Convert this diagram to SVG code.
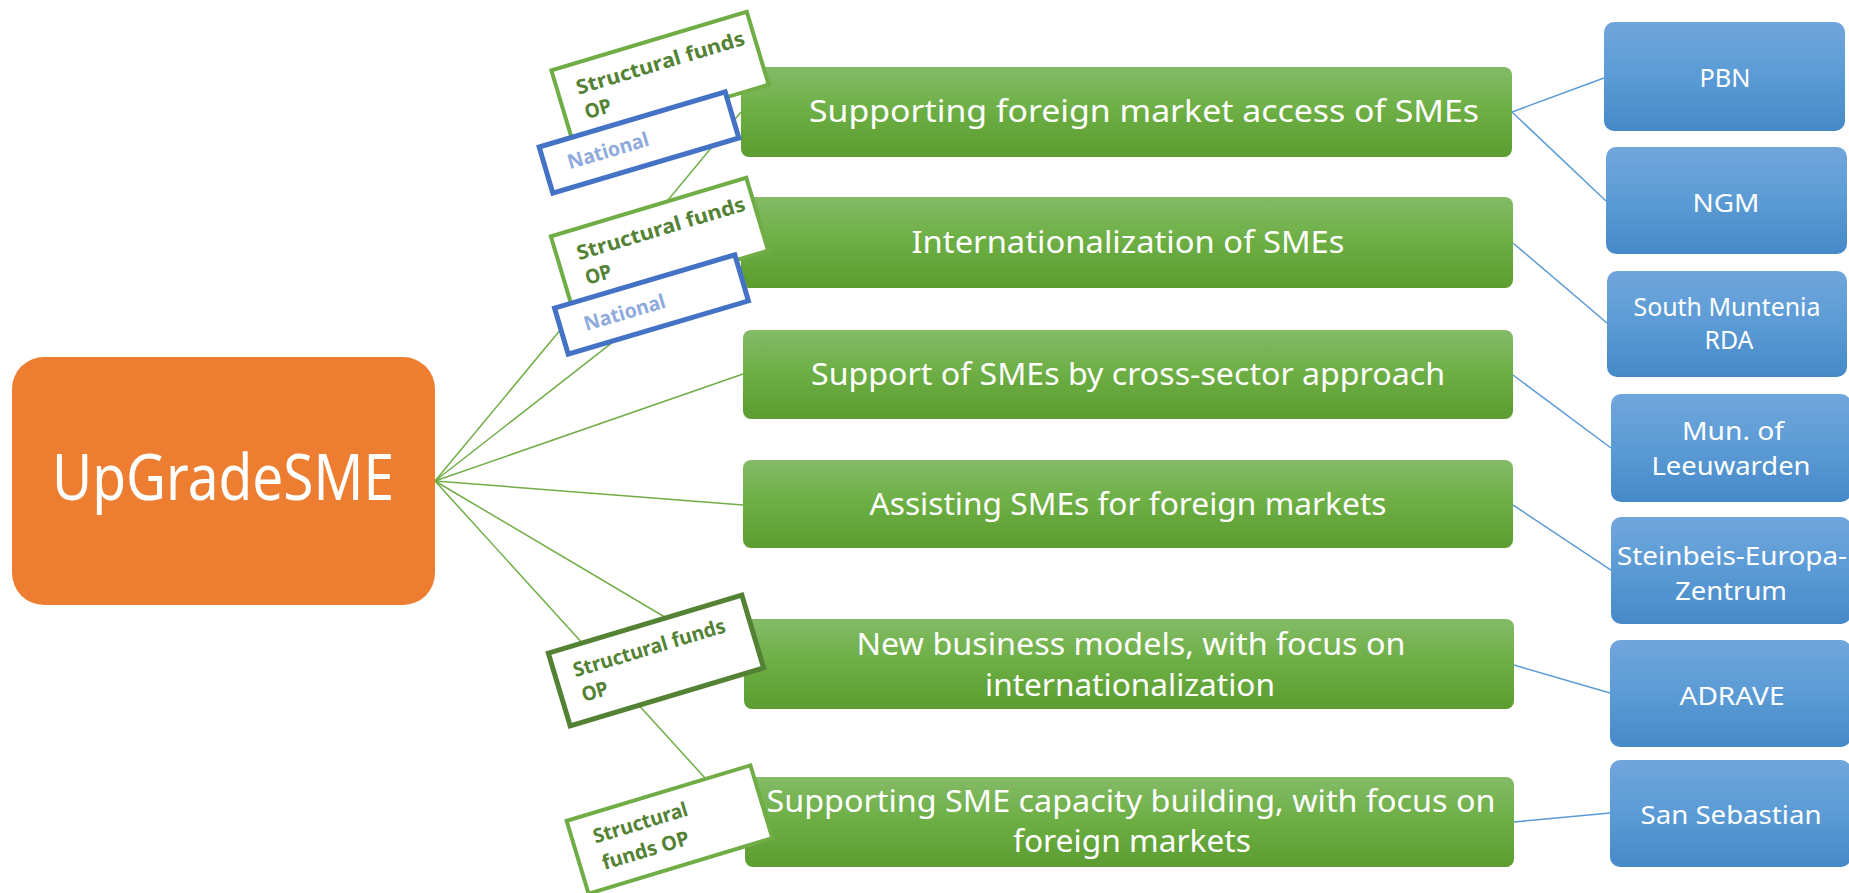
<svg xmlns="http://www.w3.org/2000/svg" width="1849" height="893" viewBox="0 0 1849 893">
<defs>
<linearGradient id="gGreen" x1="0" y1="0" x2="0" y2="1">
<stop offset="0" stop-color="#84bb67"/>
<stop offset="0.5" stop-color="#6cae43"/>
<stop offset="1" stop-color="#5c9c31"/>
</linearGradient>
<linearGradient id="gBlue" x1="0" y1="0" x2="0" y2="1">
<stop offset="0" stop-color="#71a6dc"/>
<stop offset="0.5" stop-color="#5b9bd5"/>
<stop offset="1" stop-color="#4689c8"/>
</linearGradient>
</defs>
<style>
.gbox{fill:url(#gGreen);}
.bbox{fill:url(#gBlue);}
.gt{font-family:"Noto Sans","Liberation Sans",sans-serif;font-size:30px;fill:#ffffff;text-anchor:middle;}
.bt{font-family:"Noto Sans","Liberation Sans",sans-serif;font-size:26px;fill:#ffffff;text-anchor:middle;}
.bt2{font-family:"Noto Sans","Liberation Sans",sans-serif;font-size:25px;fill:#ffffff;text-anchor:middle;}
.gl{stroke:#70ad47;stroke-width:1.5;fill:none;}
.bl{stroke:#5b9bd5;stroke-width:1.5;fill:none;}
.sf{fill:#ffffff;stroke:#70ad47;stroke-width:4;}
.sfd{fill:#ffffff;stroke:#548235;stroke-width:5;}
.nat{fill:#ffffff;stroke:#4472c4;stroke-width:5;}
.st{font-family:"Noto Sans","Liberation Sans",sans-serif;font-size:20px;font-weight:bold;fill:#548235;}
.nt{font-family:"Noto Sans","Liberation Sans",sans-serif;font-size:20px;font-weight:bold;fill:#8faadc;}
</style>

<g id="connectors">
<line class="gl" x1="435" y1="481" x2="741" y2="112"/>
<line class="gl" x1="435" y1="481" x2="741" y2="242"/>
<line class="gl" x1="435" y1="481" x2="743" y2="374"/>
<line class="gl" x1="435" y1="481" x2="743" y2="505"/>
<line class="gl" x1="435" y1="481" x2="744" y2="664"/>
<line class="gl" x1="435" y1="481" x2="745" y2="822"/>
<line class="bl" x1="1512" y1="112" x2="1604" y2="78"/>
<line class="bl" x1="1512" y1="112" x2="1606" y2="201"/>
<line class="bl" x1="1513" y1="243" x2="1607" y2="323"/>
<line class="bl" x1="1513" y1="375" x2="1611" y2="448"/>
<line class="bl" x1="1513" y1="505" x2="1611" y2="570"/>
<line class="bl" x1="1514" y1="665" x2="1610" y2="693"/>
<line class="bl" x1="1514" y1="822" x2="1610" y2="813"/>
</g>

<g id="upgradesme">
<rect x="12" y="357" width="423" height="248" rx="32" fill="#ed7d31"/>
<text x="223" y="500" font-family="Noto Sans, Liberation Sans, sans-serif" font-size="64" fill="#ffffff" text-anchor="middle" textLength="342" lengthAdjust="spacingAndGlyphs">UpGradeSME</text>
</g>

<g id="g1">
<rect class="gbox" x="741" y="67" width="771" height="90" rx="8"/>
<text class="gt" x="1144" y="122" textLength="670" lengthAdjust="spacingAndGlyphs">Supporting foreign market access of SMEs</text>
</g>
<g id="g2">
<rect class="gbox" x="741" y="197" width="772" height="91" rx="8"/>
<text class="gt" x="1128" y="253" textLength="433" lengthAdjust="spacingAndGlyphs">Internationalization of SMEs</text>
</g>
<g id="g3">
<rect class="gbox" x="743" y="330" width="770" height="89" rx="8"/>
<text class="gt" x="1128" y="385" textLength="634" lengthAdjust="spacingAndGlyphs">Support of SMEs by cross-sector approach</text>
</g>
<g id="g4">
<rect class="gbox" x="743" y="460" width="770" height="88" rx="8"/>
<text class="gt" x="1128" y="515" textLength="517" lengthAdjust="spacingAndGlyphs">Assisting SMEs for foreign markets</text>
</g>
<g id="g5">
<rect class="gbox" x="744" y="619" width="770" height="90" rx="8"/>
<text class="gt" x="1131" y="655" textLength="549" lengthAdjust="spacingAndGlyphs">New business models, with focus on</text>
<text class="gt" x="1130" y="696" textLength="290" lengthAdjust="spacingAndGlyphs">internationalization</text>
</g>
<g id="g6">
<rect class="gbox" x="745" y="777" width="769" height="90" rx="8"/>
<text class="gt" x="1131" y="812" textLength="729" lengthAdjust="spacingAndGlyphs">Supporting SME capacity building, with focus on</text>
<text class="gt" x="1132" y="852" textLength="238" lengthAdjust="spacingAndGlyphs">foreign markets</text>
</g>

<g id="pbn">
<rect class="bbox" x="1604" y="22" width="241" height="109" rx="10"/>
<text class="bt" x="1725" y="87" textLength="51" lengthAdjust="spacingAndGlyphs">PBN</text>
</g>
<g id="ngm">
<rect class="bbox" x="1606" y="147" width="241" height="107" rx="10"/>
<text class="bt" x="1726" y="212" textLength="67" lengthAdjust="spacingAndGlyphs">NGM</text>
</g>
<g id="southmuntenia">
<rect class="bbox" x="1607" y="271" width="240" height="106" rx="10"/>
<text class="bt2" x="1727" y="316" textLength="187" lengthAdjust="spacingAndGlyphs">South Muntenia</text>
<text class="bt2" x="1729" y="349" textLength="49" lengthAdjust="spacingAndGlyphs">RDA</text>
</g>
<g id="leeuwarden">
<rect class="bbox" x="1611" y="394" width="240" height="108" rx="10"/>
<text class="bt" x="1733" y="440" textLength="102" lengthAdjust="spacingAndGlyphs">Mun. of</text>
<text class="bt" x="1731" y="475" textLength="159" lengthAdjust="spacingAndGlyphs">Leeuwarden</text>
</g>
<g id="steinbeis">
<rect class="bbox" x="1611" y="517" width="240" height="107" rx="10"/>
<text class="bt" x="1732" y="565" textLength="230" lengthAdjust="spacingAndGlyphs">Steinbeis-Europa-</text>
<text class="bt" x="1731" y="600" textLength="112" lengthAdjust="spacingAndGlyphs">Zentrum</text>
</g>
<g id="adrave">
<rect class="bbox" x="1610" y="640" width="241" height="107" rx="10"/>
<text class="bt" x="1732" y="705" textLength="105" lengthAdjust="spacingAndGlyphs">ADRAVE</text>
</g>
<g id="sansebastian">
<rect class="bbox" x="1610" y="760" width="241" height="107" rx="10"/>
<text class="bt" x="1731" y="824" textLength="181" lengthAdjust="spacingAndGlyphs">San Sebastian</text>
</g>

<g id="label-sf1" transform="translate(660,77.5) rotate(-16.7)">
<rect class="sf" x="-102" y="-38" width="204" height="76"/>
<text class="st" x="-83" y="-7" textLength="175" lengthAdjust="spacingAndGlyphs">Structural funds</text>
<text class="st" x="-82" y="19" textLength="27" lengthAdjust="spacingAndGlyphs">OP</text>
</g>
<g id="label-nat1" transform="translate(639,142.5) rotate(-16.5)">
<rect class="nat" x="-97" y="-24" width="194" height="48"/>
<text class="nt" x="-74" y="6" textLength="84" lengthAdjust="spacingAndGlyphs">National</text>
</g>
<g id="label-sf2" transform="translate(659.5,243.5) rotate(-16.7)">
<rect class="sf" x="-102" y="-38" width="204" height="76"/>
<text class="st" x="-82" y="-7" textLength="175" lengthAdjust="spacingAndGlyphs">Structural funds</text>
<text class="st" x="-81" y="19" textLength="27" lengthAdjust="spacingAndGlyphs">OP</text>
</g>
<g id="label-nat2" transform="translate(651.5,304.5) rotate(-16.5)">
<rect class="nat" x="-94" y="-24" width="188" height="48"/>
<text class="nt" x="-70" y="7" textLength="84" lengthAdjust="spacingAndGlyphs">National</text>
</g>
<g id="label-sf3" transform="translate(656,660.5) rotate(-16.7)">
<rect class="sfd" x="-101" y="-38" width="202" height="76"/>
<text class="st" x="-82" y="-7" textLength="158" lengthAdjust="spacingAndGlyphs">Structural funds</text>
<text class="st" x="-81" y="19" textLength="27" lengthAdjust="spacingAndGlyphs">OP</text>
</g>
<g id="label-sf4" transform="translate(669.5,829.5) rotate(-16.8)">
<rect class="sf" x="-96" y="-38" width="192" height="76"/>
<text class="st" x="-75" y="-8" textLength="98" lengthAdjust="spacingAndGlyphs">Structural</text>
<text class="st" x="-74" y="20" textLength="90" lengthAdjust="spacingAndGlyphs">funds OP</text>
</g>
</svg>
